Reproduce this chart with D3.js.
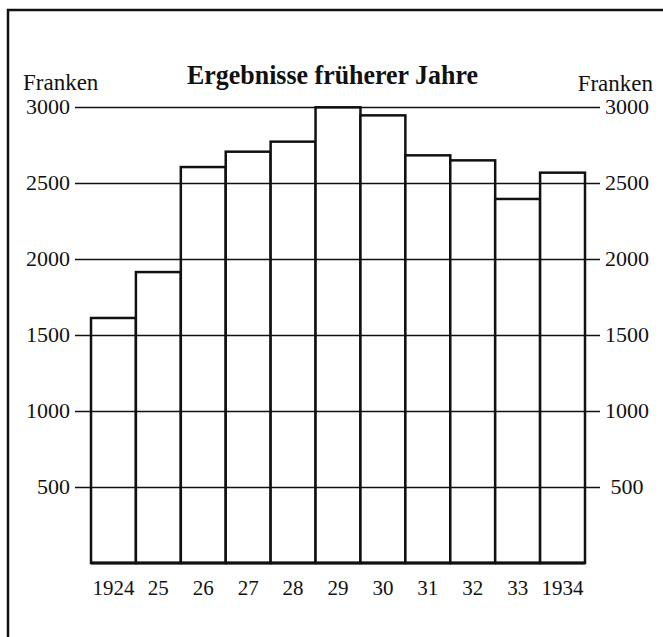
<!DOCTYPE html>
<html>
<head>
<meta charset="utf-8">
<script src="https://cdn.jsdelivr.net/npm/d3@7"></script>
<style>
  body { margin: 0; background: #fff; }
  svg { display: block; }
  .lbl { font-family: "Liberation Serif", "DejaVu Serif", serif; fill: #111; }
</style>
</head>
<body>
<script>
// years shown under the bars
var years = ["1924", "25", "26", "27", "28", "29", "30", "31", "32", "33", "1934"];
// results in Franken
var values = [1612, 1914, 2605, 2706, 2772, 2998, 2945, 2682, 2649, 2395, 2568];
var yTicks = [500, 1000, 1500, 2000, 2500, 3000];

window.onload = function() {
  var w = 663, h = 637;

  var svg = d3.select("body")
              .append("svg")
              .attr("width", w)
              .attr("height", h);

  // frame (top and left edge of the page box)
  svg.append("path")
     .attr("d", "M8,637 L8,10 L663,10")
     .style("fill", "none")
     .style("stroke", "#111")
     .style("stroke-width", 2.5);

  var xScale = d3.scaleBand()
                 .domain(years)
                 .range([91, 585])
                 .padding(0);

  var yScale = d3.scaleLinear()
                 .domain([0, 3000])
                 .range([563, 107]);

  // bars
  svg.selectAll("rect.bar")
     .data(values)
     .enter().append("rect")
      .attr("class", "bar")
      .attr("x", function(d, i) { return xScale(years[i]); })
      .attr("y", function(d) { return yScale(d); })
      .attr("width", xScale.bandwidth())
      .attr("height", function(d) { return yScale(0) - yScale(d); })
      .style("fill", "white")
      .style("stroke", "#111")
      .style("stroke-width", 2.5);

  // left axis with grid lines across
  var left = svg.append("g")
     .attr("transform", "translate(75, 0)")
     .call(d3.axisLeft(yScale)
             .tickValues(yTicks)
             .tickFormat(d3.format("d"))
             .tickSizeInner(-(600 - 75))
             .tickSizeOuter(0)
             .tickPadding(5));
  left.select(".domain").remove();
  left.selectAll("line").style("stroke", "#111").style("stroke-width", 1.6);
  left.selectAll("text")
      .attr("class", "lbl")
      .attr("dy", "0.3em")
      .style("font-size", "22px")
      .style("fill", "#111");

  // right axis labels
  var right = svg.append("g")
     .attr("transform", "translate(600, 0)")
     .call(d3.axisRight(yScale)
             .tickValues(yTicks)
             .tickFormat(d3.format("d"))
             .tickSize(0));
  right.select(".domain").remove();
  right.selectAll("text")
       .attr("class", "lbl")
       .attr("x", 27)
       .attr("dy", "0.3em")
       .style("text-anchor", "middle")
       .style("font-size", "22px")
       .style("fill", "#111");

  // baseline
  svg.append("line")
     .attr("x1", xScale.range()[0])
     .attr("x2", xScale.range()[1])
     .attr("y1", yScale(0))
     .attr("y2", yScale(0))
     .style("stroke", "#111")
     .style("stroke-width", 3);

  // year labels
  var bottom = svg.append("g")
     .attr("transform", "translate(0, " + yScale(0) + ")")
     .call(d3.axisBottom(xScale).tickSize(0).tickPadding(17));
  bottom.select(".domain").remove();
  bottom.selectAll("text")
        .attr("class", "lbl")
        .style("font-size", "21px")
        .style("fill", "#111");

  // unit labels
  svg.append("text")
     .attr("class", "lbl")
     .attr("x", 23)
     .attr("y", 90)
     .style("font-size", "23px")
     .text("Franken");

  svg.append("text")
     .attr("class", "lbl")
     .attr("x", 653)
     .attr("y", 91)
     .style("text-anchor", "end")
     .style("font-size", "23px")
     .text("Franken");

  // title
  svg.append("text")
     .attr("class", "lbl")
     .attr("x", 187)
     .attr("y", 84)
     .attr("textLength", 291)
     .attr("lengthAdjust", "spacingAndGlyphs")
     .style("font-size", "28px")
     .style("font-weight", "bold")
     .text("Ergebnisse früherer Jahre");
}
</script>
</body>
</html>
